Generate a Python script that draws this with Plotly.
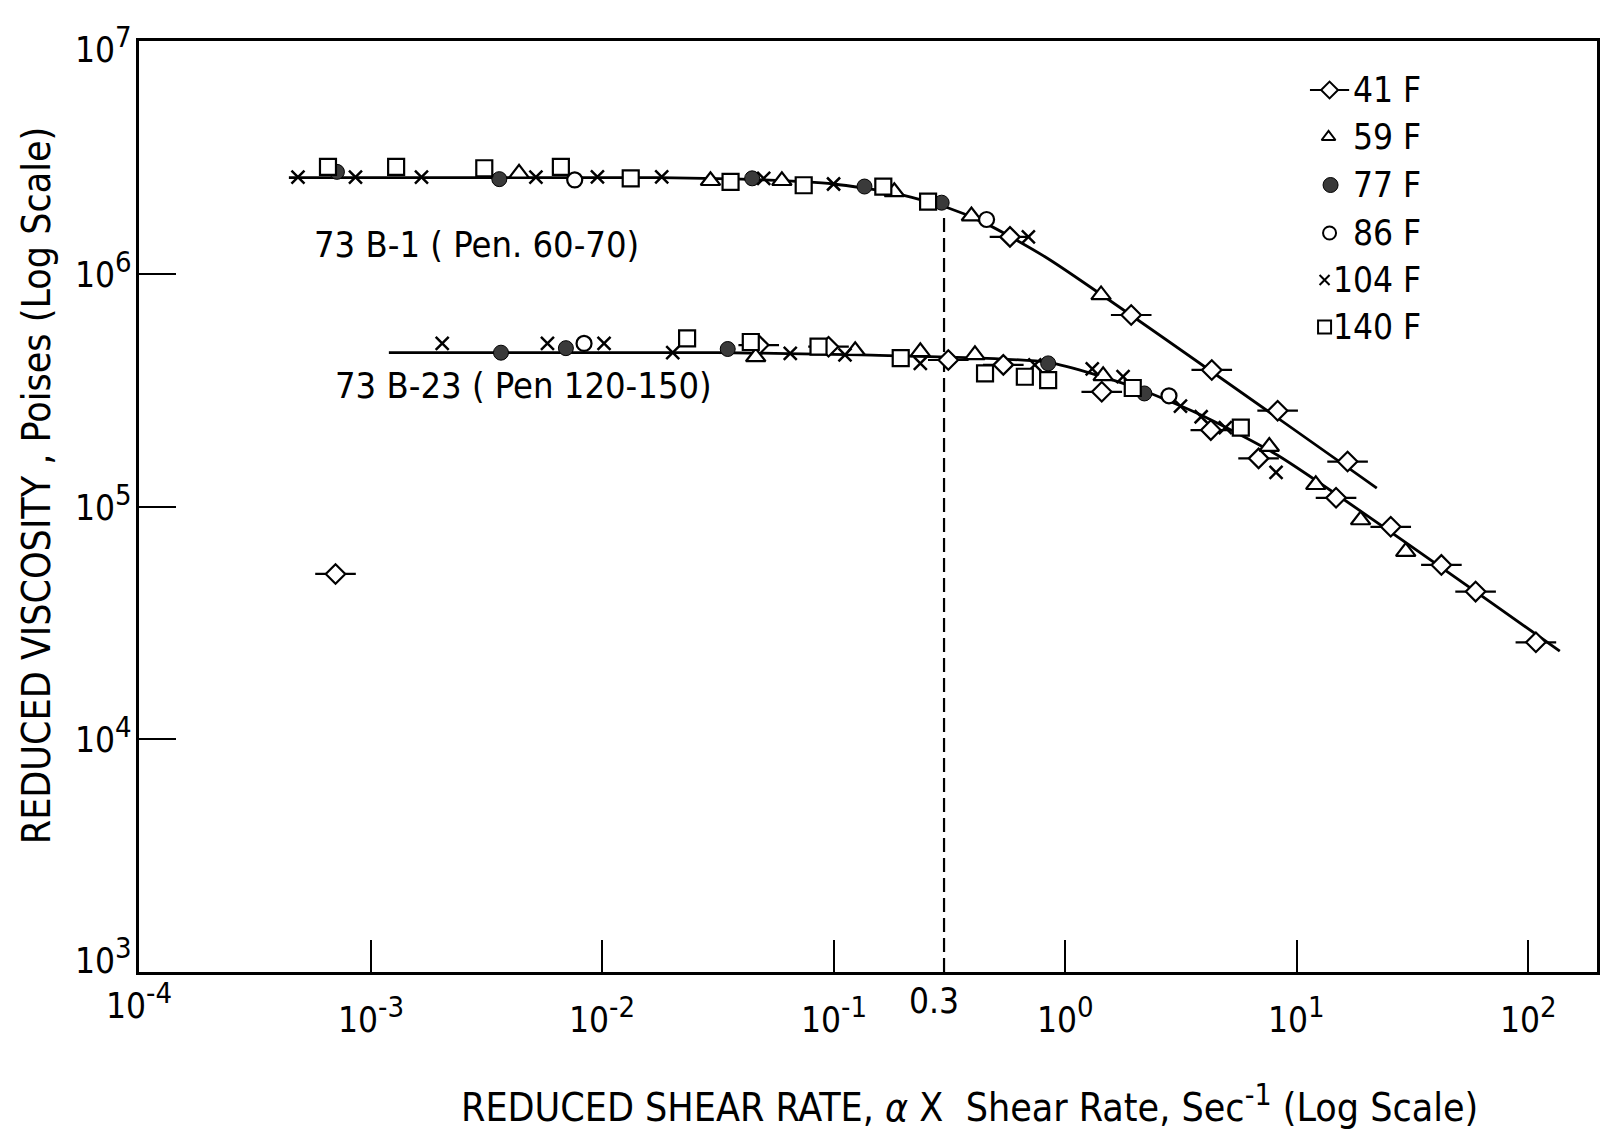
import math
import plotly.graph_objects as go

# ---------------------------------------------------------------- data
SERIES = ["41 F", "59 F", "77 F", "86 F", "104 F", "140 F"]

# 73 B-1 (Pen. 60-70)  -- upper family
B1_41F_X = [0.578, 1.93, 4.30, 8.28, 16.6]
B1_41F_Y = [1.44e6, 6.65e5, 3.86e5, 2.58e5, 1.56e5]
B1_59F_X = [4.38e-3, 2.94e-2, 5.98e-2, 0.183, 0.394, 1.43]
B1_59F_Y = [2.70e6, 2.51e6, 2.51e6, 2.25e6, 1.77e6, 8.11e5]
B1_77F_X = [7.16e-4, 3.60e-3, 4.45e-2, 0.136, 0.293]
B1_77F_Y = [2.74e6, 2.55e6, 2.57e6, 2.37e6, 2.02e6]
B1_86F_X = [7.62e-3, 0.458]
B1_86F_Y = [2.53e6, 1.71e6]
B1_104F_X = [4.86e-4, 8.61e-4, 1.66e-3, 5.18e-3, 9.55e-3, 1.81e-2, 4.99e-2, 0.100, 0.694]
B1_104F_Y = [2.60e6, 2.60e6, 2.60e6, 2.60e6, 2.61e6, 2.61e6, 2.57e6, 2.43e6, 1.44e6]
B1_140F_X = [6.55e-4, 1.29e-3, 3.10e-3, 6.64e-3, 1.33e-2, 3.59e-2, 7.43e-2, 0.164, 0.256]
B1_140F_Y = [2.88e6, 2.88e6, 2.84e6, 2.88e6, 2.57e6, 2.48e6, 2.40e6, 2.37e6, 2.04e6]

# 73 B-23 (Pen 120-150)  -- lower family
B23_41F_X = [4.75e-2, 9.51e-2, 0.313, 0.541, 1.44, 4.26, 6.85, 14.8, 25.5, 42.2, 59.3, 108.0]
B23_41F_Y = [4.94e5, 4.86e5, 4.26e5, 4.06e5, 3.11e5, 2.13e5, 1.61e5, 1.09e5, 8.18e4, 5.61e4, 4.31e4, 2.61e4]
B23_59F_X = [4.61e-2, 0.124, 0.237, 0.408, 1.46, 7.62, 12.1, 18.9, 29.6]
B23_59F_Y = [4.39e5, 4.67e5, 4.62e5, 4.48e5, 3.64e5, 1.81e5, 1.24e5, 8.75e4, 6.40e4]
B23_77F_X = [3.66e-3, 6.98e-3, 3.49e-2, 0.845, 2.20]
B23_77F_Y = [4.58e5, 4.79e5, 4.75e5, 4.12e5, 3.06e5]
B23_86F_X = [8.36e-3, 2.81]
B23_86F_Y = [5.02e5, 2.99e5]
B23_104F_X = [2.04e-3, 5.81e-3, 1.02e-2, 2.02e-2, 6.50e-2, 0.112, 0.237, 0.740, 1.31, 1.78, 3.15, 3.87, 4.92, 8.15]
B23_104F_Y = [5.02e5, 5.02e5, 5.02e5, 4.58e5, 4.55e5, 4.48e5, 4.12e5, 4.06e5, 3.90e5, 3.61e5, 2.70e5, 2.43e5, 2.18e5, 1.40e5]
B23_140F_X = [2.33e-2, 4.39e-2, 8.61e-2, 0.195, 0.451, 0.670, 0.845, 1.96, 5.74]
B23_140F_Y = [5.28e5, 5.09e5, 4.86e5, 4.34e5, 3.73e5, 3.61e5, 3.49e5, 3.23e5, 2.18e5]

# stray 41 F point at low shear rate
STRAY_41F_X = [7.06e-4]
STRAY_41F_Y = [5.13e4]

# hand-drawn master curves
B1_CURVE_X = [4.44e-4, 1.76e-2, 4.99e-2, 0.100, 0.183, 0.303, 0.451, 0.845, 22.2]
B1_CURVE_Y = [2.59e6, 2.59e6, 2.53e6, 2.43e6, 2.22e6, 1.94e6, 1.65e6, 1.16e6, 1.20e5]
B23_CURVE_X = [1.20e-3, 3.16e-2, 0.132, 0.845, 1.98, 3.74, 8.28, 137.0]
B23_CURVE_Y = [4.58e5, 4.58e5, 4.48e5, 4.16e5, 3.26e5, 2.51e5, 1.66e5, 2.39e4]

# critical reduced shear rate marker
CRIT_X = 0.3
CRIT_Y_TOP = 1.84e6

CURVE_LABELS = ["73 B-1 ( Pen. 60-70)", "73 B-23 ( Pen 120-150)"]
CURVE_LABEL_X = [5.6e-4, 6.9e-4]
CURVE_LABEL_Y = [1.34e6, 3.30e5]

X_TICK_VALUES = [1e-4, 1e-3, 1e-2, 1e-1, 1e0, 1e1, 1e2]
X_TICK_EXP = ["-4", "-3", "-2", "-1", "0", "1", "2"]
Y_TICK_VALUES = [1e3, 1e4, 1e5, 1e6, 1e7]
Y_TICK_EXP = ["3", "4", "5", "6", "7"]

X_TITLE_MAIN = "REDUCED SHEAR RATE, <i>α</i> X  Shear Rate, Sec"
X_TITLE_EXP = "-1"
X_TITLE_TAIL = " (Log Scale)"
Y_TITLE = "REDUCED VISCOSITY , Poises (Log Scale)"

# ---------------------------------------------------------------- styles
FONT = "DejaVu Sans Condensed"
FS_TICK = 35
FS_EXP = 29
FS_TEXT = 36
FS_LEG = 35
FS_TITLE = 39
BLACK = "black"

STYLE = {
    "41 F": dict(symbol="diamond", size=15, color="white", line=dict(color=BLACK, width=2.2)),
    "59 F": dict(symbol="triangle-up", size=17, color="white", line=dict(color=BLACK, width=2.2)),
    "77 F": dict(symbol="circle", size=15, color="#3a3a3a", line=dict(color=BLACK, width=1)),
    "86 F": dict(symbol="circle", size=15, color="white", line=dict(color=BLACK, width=2.2)),
    "104 F": dict(symbol="x-thin", size=13, color=BLACK, line=dict(color=BLACK, width=2.5)),
    "140 F": dict(symbol="square", size=16, color="white", line=dict(color=BLACK, width=2.2)),
}
LEG_STYLE = {
    "41 F": dict(symbol="diamond", size=13, color="white", line=dict(color=BLACK, width=2)),
    "59 F": dict(symbol="triangle-up", size=12, color="white", line=dict(color=BLACK, width=2)),
    "77 F": dict(symbol="circle", size=15, color="#3a3a3a", line=dict(color=BLACK, width=1)),
    "86 F": dict(symbol="circle", size=13, color="white", line=dict(color=BLACK, width=2)),
    "104 F": dict(symbol="x-thin", size=10, color=BLACK, line=dict(color=BLACK, width=2)),
    "140 F": dict(symbol="square", size=13, color="white", line=dict(color=BLACK, width=2)),
}

DATA = {
    "41 F": (B1_41F_X + B23_41F_X + STRAY_41F_X, B1_41F_Y + B23_41F_Y + STRAY_41F_Y),
    "59 F": (B1_59F_X + B23_59F_X, B1_59F_Y + B23_59F_Y),
    "77 F": (B1_77F_X + B23_77F_X, B1_77F_Y + B23_77F_Y),
    "86 F": (B1_86F_X + B23_86F_X, B1_86F_Y + B23_86F_Y),
    "104 F": (B1_104F_X + B23_104F_X, B1_104F_Y + B23_104F_Y),
    "140 F": (B1_140F_X + B23_140F_X, B1_140F_Y + B23_140F_Y),
}

fig = go.Figure()

# master curves
for cx, cy in [(B1_CURVE_X, B1_CURVE_Y), (B23_CURVE_X, B23_CURVE_Y)]:
    fig.add_trace(go.Scatter(x=cx, y=cy, mode="lines",
                             line=dict(color=BLACK, width=2.8, shape="spline", smoothing=0.6),
                             hoverinfo="skip", showlegend=False))

# dashed critical line
fig.add_trace(go.Scatter(x=[CRIT_X, CRIT_X], y=[1e3, CRIT_Y_TOP], mode="lines",
                         line=dict(color=BLACK, width=2.2, dash="14px,6px"), showlegend=False))

# flags on 41 F diamonds
fx, fy = DATA["41 F"]
fig.add_trace(go.Scatter(x=fx, y=fy, mode="markers", showlegend=False,
                         marker=dict(symbol="line-ew", size=29, line=dict(color=BLACK, width=2.2))))

# markers
for name in SERIES:
    xs, ys = DATA[name]
    fig.add_trace(go.Scatter(x=xs, y=ys, mode="markers", name=name, marker=STYLE[name], showlegend=False))

# manual legend on an overlay axis (0..1 within the plot area)
PLOT_L, PLOT_T, PLOT_W, PLOT_H = 139, 41, 1461, 931
LEG_ROWS_PX = [90, 137, 185, 233, 280, 327]
LEG_MARK_PX = [1332, 1331, 1333, 1332, 1327, 1327]
LEG_TEXT_RIGHT_PX = 1426
for i, name in enumerate(SERIES):
    ly = (PLOT_T + PLOT_H - LEG_ROWS_PX[i]) / PLOT_H
    lx_m = (LEG_MARK_PX[i] - PLOT_L) / PLOT_W
    if name == "41 F":
        fig.add_trace(go.Scatter(x=[lx_m], y=[ly], mode="markers", xaxis="x2", yaxis="y2", showlegend=False,
                                 marker=dict(symbol="line-ew", size=28, line=dict(color=BLACK, width=2))))
    fig.add_trace(go.Scatter(x=[lx_m], y=[ly], mode="markers", xaxis="x2", yaxis="y2", showlegend=False,
                             marker=LEG_STYLE[name]))

annotations = []
for i, name in enumerate(SERIES):
    ly = (PLOT_T + PLOT_H - LEG_ROWS_PX[i]) / PLOT_H
    annotations.append(dict(text=name, xref="paper", yref="paper", x=(LEG_TEXT_RIGHT_PX - PLOT_L) / PLOT_W, y=ly,
                            xanchor="right", yanchor="middle", showarrow=False,
                            font=dict(family=FONT, size=FS_LEG, color=BLACK)))

# curve labels
for t, x, y in zip(CURVE_LABELS, CURVE_LABEL_X, CURVE_LABEL_Y):
    annotations.append(dict(text=t, x=math.log10(x), y=math.log10(y), xref="x", yref="y",
                            xanchor="left", yanchor="middle", showarrow=False,
                            font=dict(family=FONT, size=FS_TEXT, color=BLACK)))


def p10(e):
    return "10<sup><span style=\"font-size:%dpx\">%s</span></sup>" % (FS_EXP, e)


# x tick labels
for v, e in zip(X_TICK_VALUES, X_TICK_EXP):
    shift = -2 if e == "-4" else -16
    annotations.append(dict(text=p10(e), x=math.log10(v), y=0, xref="x", yref="paper",
                            xanchor="center", yanchor="top", yshift=shift, showarrow=False,
                            font=dict(family=FONT, size=FS_TICK, color=BLACK)))
annotations.append(dict(text="0.3", x=math.log10(CRIT_X), y=0, xref="x", yref="paper", xanchor="center",
                        yanchor="top", xshift=-10, yshift=-7, showarrow=False,
                        font=dict(family=FONT, size=FS_TICK, color=BLACK)))

# y tick labels
for v, e in zip(Y_TICK_VALUES, Y_TICK_EXP):
    shift = {"3": 16, "7": -4}.get(e, 4)
    annotations.append(dict(text=p10(e), x=0, y=math.log10(v), xref="paper", yref="y",
                            xanchor="right", yanchor="middle", xshift=-5, yshift=shift, showarrow=False,
                            font=dict(family=FONT, size=FS_TICK, color=BLACK)))

# axis titles
x_title = (X_TITLE_MAIN + "<sup><span style=\"font-size:30px\">" + X_TITLE_EXP + "</span></sup>"
           + X_TITLE_TAIL)
annotations.append(dict(text=x_title, x=(971 - PLOT_L) / PLOT_W, y=-(1103 - (PLOT_T + PLOT_H)) / PLOT_H,
                        xref="paper", yref="paper", xanchor="center", yanchor="middle", showarrow=False,
                        font=dict(family=FONT, size=FS_TITLE, color=BLACK)))
annotations.append(dict(text=Y_TITLE, x=(36 - PLOT_L) / PLOT_W, y=(PLOT_T + PLOT_H - 485) / PLOT_H,
                        xref="paper", yref="paper", xanchor="center", yanchor="middle", textangle=-90,
                        showarrow=False, font=dict(family=FONT, size=FS_TITLE, color=BLACK)))

fig.update_layout(
    width=1602, height=1131,
    margin=dict(l=PLOT_L, r=1602 - PLOT_L - PLOT_W, t=PLOT_T, b=1131 - PLOT_T - PLOT_H),
    paper_bgcolor="white", plot_bgcolor="white",
    font=dict(family=FONT, color=BLACK, size=FS_TEXT),
    showlegend=False,
    xaxis=dict(type="log", range=[-4, -4 + PLOT_W / 232.0], showgrid=False, zeroline=False,
               showline=True, linewidth=3, linecolor=BLACK, mirror=True,
               ticks="inside", ticklen=32, tickwidth=2, tickcolor=BLACK,
               tickvals=X_TICK_VALUES[1:], showticklabels=False),
    yaxis=dict(type="log", range=[3, 7], showgrid=False, zeroline=False,
               showline=True, linewidth=3, linecolor=BLACK, mirror=True,
               ticks="inside", ticklen=37, tickwidth=2, tickcolor=BLACK,
               tickvals=Y_TICK_VALUES[1:-1], showticklabels=False),
    xaxis2=dict(overlaying="x", range=[0, 1], visible=False),
    yaxis2=dict(overlaying="y", range=[0, 1], visible=False),
    annotations=annotations,
)

fig.write_html("out.html")
